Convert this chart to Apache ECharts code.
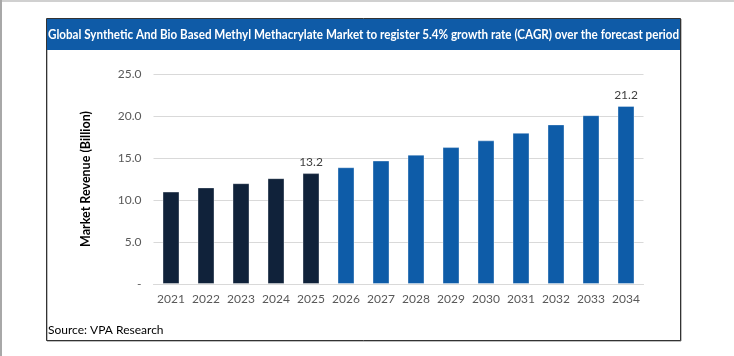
<!DOCTYPE html>
<html>
<head>
<meta charset="utf-8">
<script src="https://cdn.jsdelivr.net/npm/echarts@6/dist/echarts.min.js"></script>
<style>
html,body{margin:0;padding:0;background:#fff;}
#c{width:734px;height:356px;}
</style>
</head>
<body>
<div id="c"></div>
<script>
const categories = ['2021','2022','2023','2024','2025','2026','2027','2028','2029','2030','2031','2032','2033','2034'];
const values = [11.0, 11.5, 12.0, 12.6, 13.2, 13.9, 14.7, 15.4, 16.3, 17.1, 18.0, 19.0, 20.1, 21.2];
const historicalCount = 5;
const labeledYears = ['2025','2034'];
const yTicks = [0, 5, 10, 15, 20, 25];
const titleText = 'Global Synthetic And Bio Based Methyl Methacrylate Market to register 5.4% growth rate (CAGR) over the forecast period';
const yAxisName = 'Market Revenue (Billion)';
const sourceText = 'Source: VPA Research';

const FONT = 'Lato, "Open Sans", sans-serif';
const chart = echarts.init(document.getElementById('c'), null, {renderer: 'canvas'});

const seriesData = values.map((v, i) => ({
  value: v,
  itemStyle: { color: i < historicalCount ? '#10223A' : '#0E5CA8' },
  label: { show: labeledYears.indexOf(categories[i]) >= 0 }
}));

// fit title width to the box
const titleFont = 'bold 13px ' + FONT;
const titleWidth = echarts.format.getTextRect ? echarts.format.getTextRect(titleText, titleFont).width : 712;
const titleScale = 631 / titleWidth;

chart.setOption({
  animation: false,
  grid: { left: 153.5, width: 490, top: 74, height: 210, containLabel: false },
  xAxis: {
    type: 'category',
    data: categories,
    axisLine: { show: true, lineStyle: { color: '#D9D9D9', width: 1 } },
    axisTick: { show: false },
    axisLabel: { interval: 0, color: '#595959', fontFamily: FONT, fontSize: 12, margin: 9 }
  },
  yAxis: {
    type: 'value',
    min: yTicks[0], max: yTicks[yTicks.length - 1], interval: 5,
    name: yAxisName,
    nameLocation: 'middle',
    nameGap: 61,
    nameRotate: 90,
    nameTextStyle: { color: '#000', fontFamily: FONT, fontSize: 12.5, fontWeight: 'bold' },
    axisLine: { show: false },
    axisTick: { show: false },
    splitLine: { lineStyle: { color: '#D9D9D9', width: 1 } },
    axisLabel: {
      color: '#595959', fontFamily: FONT, fontSize: 12, margin: 12,
      formatter: v => v === 0 ? '-' : v.toFixed(1)
    }
  },
  series: [{
    type: 'bar',
    data: seriesData,
    barWidth: 17,
    itemStyle: { borderColor: 'rgba(255,255,255,0.35)', borderWidth: 1 },
    label: {
      position: 'top', distance: 5, color: '#404040', fontFamily: FONT, fontSize: 12,
      formatter: p => p.value.toFixed(1)
    }
  }],
  graphic: [
    { type: 'rect', silent: true, z: -1, shape: { x: 0, y: 0, width: 734, height: 2 }, style: { fill: '#D0D0D0' } },
    { type: 'rect', silent: true, z: -1, shape: { x: 0, y: 0, width: 2, height: 356 }, style: { fill: '#A8A8A8' } },
    { type: 'rect', silent: true, z: 0, shape: { x: 47, y: 19, width: 634, height: 322 }, style: { fill: 'none', stroke: '#808080', lineWidth: 1 } },
    { type: 'rect', silent: true, z: 0, shape: { x: 46.5, y: 18.5, width: 634, height: 322 }, style: { fill: 'none', stroke: '#333333', lineWidth: 1 } },
    { type: 'rect', silent: true, z: 1, shape: { x: 47, y: 19, width: 633, height: 31 }, style: { fill: '#0F5BA7' } },
    { type: 'text', silent: true, z: 2, x: 48, y: 34.5, scaleX: titleScale,
      style: { text: titleText, fill: '#FFFFFF', font: titleFont, textVerticalAlign: 'middle', textAlign: 'left' } },
    { type: 'text', silent: true, z: 2, x: 48, y: 330,
      style: { text: sourceText, fill: '#000000', font: '12px ' + FONT, textVerticalAlign: 'middle', textAlign: 'left' } }
  ]
});
</script>
</body>
</html>
